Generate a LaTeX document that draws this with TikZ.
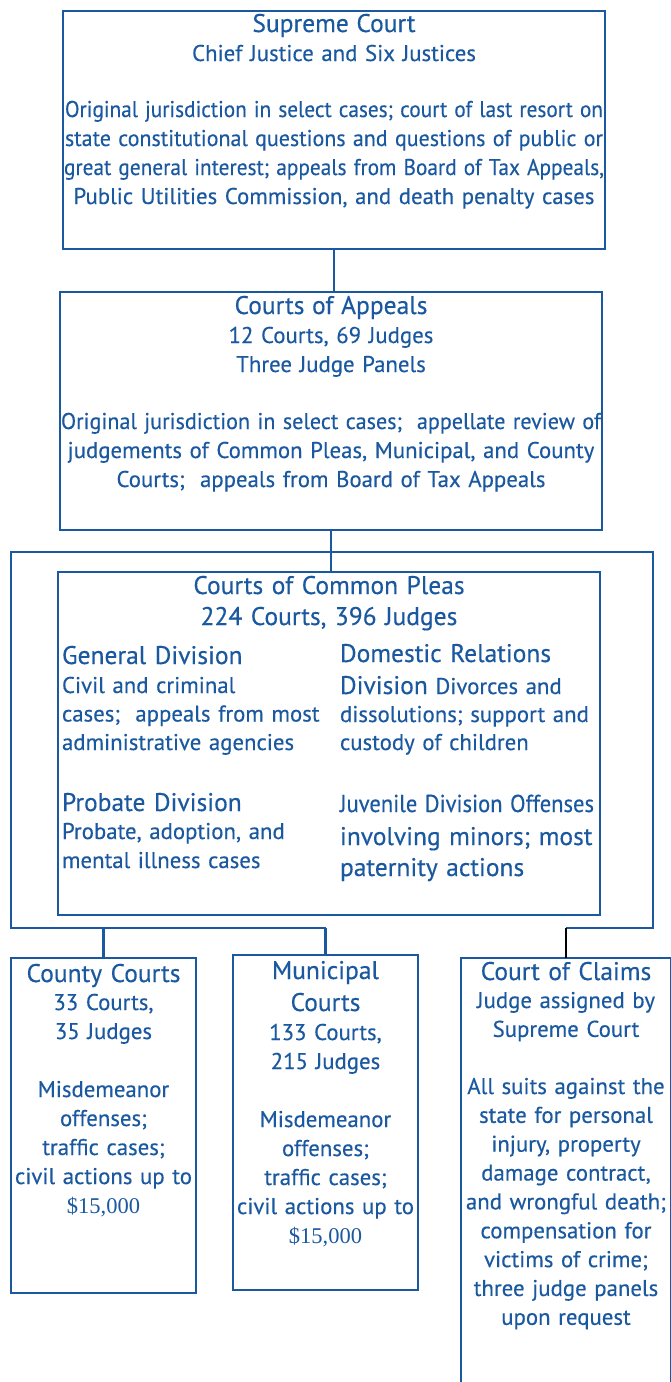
\documentclass[tikz,border=0pt]{standalone}
\usepackage{fontspec}
\usepackage{graphicx}
\setmainfont{PT Sans}[FakeBold=0.3]
\newfontfamily\timesf{Liberation Serif}
\definecolor{cblue}{RGB}{26,88,160}
\newcommand{\fitw}[2]{\resizebox{#1}{\height}{#2}}
\newcommand{\hd}{\fontsize{25.5}{29}\selectfont}
\newcommand{\dollars}{{\timesf\fontsize{22.5}{29}\selectfont \$15,000}}
\begin{document}
\begin{tikzpicture}[x=1pt,y=-1pt,
  every node/.style={inner sep=0pt, outer sep=0pt, text=cblue},
  box/.style={draw=cblue, line width=2.4pt, rectangle},
  conn/.style={draw=cblue, line width=2.4pt},
  ftxt/.style={font=\fontsize{22.8}{29}\selectfont},
  fhead/.style={font=\hd},
  ctxt/.style={ftxt, align=center, anchor=base},
  ltxt/.style={ftxt, align=left, anchor=base west}]
\useasboundingbox (0,0) rectangle (671,1382);
\fill[white] (0,0) rectangle (671,1382);
% boxes
\node[box, minimum width=542pt, minimum height=238pt] (sc) at (334,130) {};
\node[box, minimum width=542pt, minimum height=238pt] (ca) at (331,411) {};
\node[box, minimum width=542pt, minimum height=343pt] (cp) at (329,743.5) {};
\node[box, minimum width=185pt, minimum height=335pt] (county) at (103.5,1125.5) {};
\node[box, minimum width=185pt, minimum height=335pt] (munic) at (325.5,1122.5) {};
\node[box, minimum width=210pt, minimum height=450pt] (claims) at (566,1183) {};
% frame around common pleas
\coordinate (ftl) at (11,552);
\coordinate (ftr) at (653,552);
\coordinate (fbl) at (11,928);
\coordinate (fbr) at (653,928);
\draw[conn] (munic.north |- fbl) -- (fbl) -- (ftl) -- (ftr) -- (fbr) -- (claims.north |- fbr);
% connectors
\draw[conn] (sc.south) -- (sc.south |- ca.north);
\draw[conn] (ca.south) -- (ca.south |- cp.north);
\draw[conn] (county.north) -- (county.north |- fbl);
\draw[conn] (munic.north) -- (munic.north |- fbl);
\draw[line width=2.4pt, black] (claims.north) -- (claims.north |- fbr);
% texts
\node[ctxt, text width=560pt] (sct) at (334,32) {{\hd Supreme Court}\\Chief Justice and Six Justices\\[27pt]\fitw{538pt}{Original jurisdiction in select cases; court of last resort on}\\ \fitw{538pt}{state constitutional questions and questions of public or}\\ \fitw{540pt}{great general interest; appeals from Board of Tax Appeals,}\\Public Utilities Commission, and death penalty cases};
\node[ctxt, text width=560pt] (cat) at (331,314) {{\hd Courts of Appeals}\\12 Courts, 69 Judges\\Three Judge Panels\\[28pt]\fitw{540pt}{Original jurisdiction in select cases;\ \ appellate review of}\\judgements of Common Pleas, Municipal, and County\\Courts;\ \ appeals from Board of Tax Appeals};
\node[ctxt, text width=560pt, font=\fontsize{25.5}{31}\selectfont] (cpt) at (329,594) {Courts of Common Pleas\\224 Courts, 396 Judges};
\node[ltxt, fhead, text width=270pt] (genh) at (62,664) {General Division};
\node[ltxt, text width=270pt, font=\fontsize{22.8}{28.5}\selectfont] (genb) at (62,693) {Civil and criminal\\cases;\ \ appeals from most\\administrative agencies};
\node[ltxt, fhead, text width=270pt] (probh) at (62,811) {Probate Division};
\node[ltxt, text width=270pt] (probb) at (62,839) {Probate, adoption, and\\mental illness cases};
\node[ltxt, fhead, text width=270pt] (domh) at (340,662) {Domestic Relations};
\node[ltxt, text width=270pt, font=\fontsize{22.8}{28}\selectfont] (domb) at (340,694) {{\hd Division} Divorces and\\dissolutions; support and\\custody of children};
\node[ltxt, text width=270pt, font=\fontsize{24.5}{29}\selectfont] (juvh) at (340,812) {\fitw{254pt}{Juvenile Division Offenses}};
\node[ltxt, text width=270pt, font=\fontsize{25.5}{31}\selectfont] (juvb) at (340,845) {involving minors; most\\paternity actions};
\node[ctxt, fhead, text width=200pt] (cot) at (103.5,982) {County Courts};
\node[ctxt, text width=200pt] (cob) at (103.5,1010) {33 Courts,\\35 Judges\\[29pt]Misdemeanor\\offenses;\\traffic cases;\\civil actions up to\\\dollars};
\node[ctxt, text width=200pt, font=\fontsize{25.5}{32}\selectfont] (mut) at (325.5,979) {Municipal\\Courts};
\node[ctxt, text width=200pt] (mub) at (325.5,1040) {133 Courts,\\215 Judges\\[29pt]Misdemeanor\\offenses;\\traffic cases;\\civil actions up to\\\dollars};
\node[ctxt, fhead, text width=215pt] (clt) at (566,980) {Court of Claims};
\node[ctxt, text width=215pt, font=\fontsize{22.8}{28.85}\selectfont] (clb) at (566,1008) {Judge assigned by\\Supreme Court\\[28.3pt]All suits against the\\state for personal\\injury, property\\damage contract,\\and wrongful death;\\compensation for\\victims of crime;\\three judge panels\\upon request};
\end{tikzpicture}
\end{document}
